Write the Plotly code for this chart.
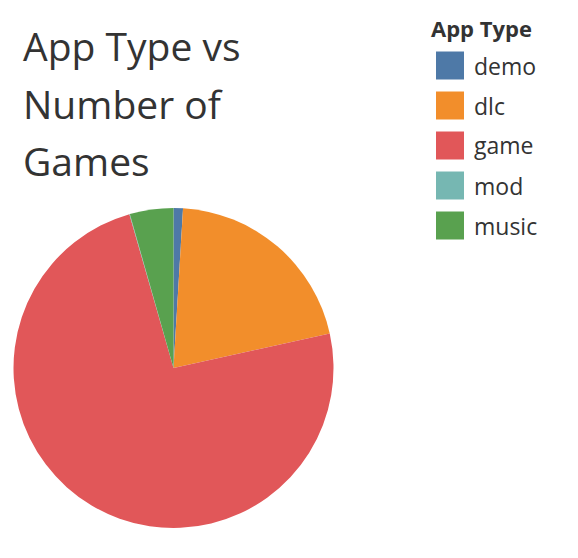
import plotly.graph_objects as go

W, H = 578, 558

app_types = ["demo", "dlc", "game", "mod", "music"]
share_pct = [0.95, 20.6, 74.0, 0.05, 4.4]
colors = ["#4E79A7", "#F28E2B", "#E15759", "#76B7B2", "#59A14F"]
title_lines = ["App Type vs", "Number of", "Games"]
legend_title = "App Type"

FONT = "Open Sans"
TXT = "#333333"
OFF = 8  # page body margin offset

def px(x):
    return (x - OFF) / W

def py(y):
    return 1 - (y - OFF) / H

cx, cy, r = 173.5, 368, 160

fig = go.Figure(go.Pie(
    labels=app_types,
    values=share_pct,
    marker=dict(colors=colors, line=dict(width=0)),
    sort=False,
    direction="clockwise",
    rotation=0,
    textinfo="none",
    showlegend=False,
    domain=dict(x=[px(cx - r), px(cx + r)], y=[py(cy + r), py(cy - r)]),
))

annotations = []
for i, line in enumerate(title_lines):
    annotations.append(dict(
        text=line, x=px(21), y=py(60 + 57.5 * i), xref="paper", yref="paper",
        xanchor="left", yanchor="bottom", showarrow=False,
        font=dict(family=FONT, size=39, color=TXT), yshift=-14,
    ))

annotations.append(dict(
    text="<b>" + legend_title + "</b>", x=px(429), y=py(28), xref="paper", yref="paper",
    xanchor="left", yanchor="middle", showarrow=False,
    font=dict(family=FONT, size=22, color=TXT),
))

shapes = []
for i, (lab, col) in enumerate(zip(app_types, colors)):
    yc = 65.5 + 40 * i
    shapes.append(dict(
        type="rect", xref="paper", yref="paper",
        x0=px(436), x1=px(464), y0=py(yc + 14), y1=py(yc - 14),
        fillcolor=col, line=dict(width=0),
    ))
    annotations.append(dict(
        text=lab, x=px(472), y=py(yc), xref="paper", yref="paper",
        xanchor="left", yanchor="middle", showarrow=False,
        font=dict(family=FONT, size=23, color=TXT),
    ))

fig.update_layout(
    width=W, height=H,
    margin=dict(l=0, r=0, t=0, b=0),
    paper_bgcolor="white", plot_bgcolor="white",
    annotations=annotations, shapes=shapes,
    showlegend=False,
)

fig.write_html("out.html")
